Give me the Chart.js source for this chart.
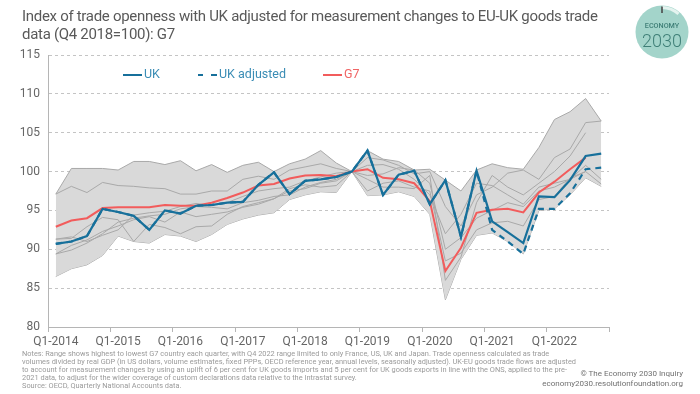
<!DOCTYPE html>
<html>
<head>
<meta charset="utf-8">
<script src="https://cdn.jsdelivr.net/npm/chart.js"></script>
<style>
  body { margin: 0; background: #fff; }
  #wrap { position: relative; width: 700px; height: 394px; overflow: hidden; font-family: Roboto, "Noto Sans", sans-serif; background: #fff; }
  #tradeChart { position: absolute; left: 0; top: 0; }
  .title { position: absolute; left: 22px; top: 7px; font-size: 15px; line-height: 18px; color: #595959; letter-spacing: -0.3px; }
  .legend { position: absolute; top: 66px; font-size: 12.5px; line-height: 16px; }
  .legend span.line { display: inline-block; width: 19px; height: 0; border-top: 2px solid; vertical-align: middle; margin-right: 2px; }
  .notes { position: absolute; left: 22px; top: 350px; font-size: 8px; line-height: 8px; color: #9a9a9a; white-space: nowrap; transform-origin: 0 0; transform: scaleX(0.925); }
  .credit { position: absolute; right: 17px; top: 369px; font-size: 8px; line-height: 9.5px; color: #707070; text-align: right; }
  #logo { position: absolute; left: 633px; top: 3px; }
</style>
</head>
<body>
<div id="wrap">
  <canvas id="tradeChart" width="700" height="394"></canvas>
  <div class="title">Index of trade openness with UK adjusted for measurement changes to EU-UK goods trade<br>data (Q4 2018=100): G7</div>
  <svg id="logo" width="60" height="60" viewBox="0 0 60 60">
    <circle cx="29" cy="29" r="26.5" fill="#a3d4ca"/>
    <path d="M29 4.5 A24.5 24.5 0 0 1 45.5 10.9" stroke="#e4f3ef" stroke-width="3" fill="none"/>
    <line x1="29" y1="3.5" x2="29" y2="10" stroke="#4a4a4a" stroke-width="1.6"/>
    <text x="29" y="25" text-anchor="middle" font-family="Roboto" font-size="7.2" font-weight="500" fill="#3f7f77">ECONOMY</text>
    <text x="29" y="44" text-anchor="middle" font-family="Roboto" font-size="18" font-weight="300" fill="#3f7f77">2030</text>
  </svg>
  <div class="legend" style="left:123px;color:#3b8db5"><span class="line" style="border-color:#17709b"></span>UK</div>
  <div class="legend" style="left:198px;color:#3b8db5"><span class="line" style="border-top:2px dashed #17709b;border-image:repeating-linear-gradient(90deg,#17709b 0 6px,transparent 6px 12px) 2"></span>UK adjusted</div>
  <div class="legend" style="left:323px;color:#f06565"><span class="line" style="border-color:#f25c5c"></span>G7</div>
  <div class="notes">Notes: Range shows highest to lowest G7 country each quarter, with Q4 2022 range limited to only France, US, UK and Japan. Trade openness calculated as trade<br>volumes divided by real GDP (in US dollars, volume estimates, fixed PPPs, OECD reference year, annual levels, seasonally adjusted). UK-EU goods trade flows are adjusted<br>to account for measurement changes by using an uplift of 6 per cent for UK goods imports and 5 per cent for UK goods exports in line with the ONS, applied to the pre-<br>2021 data, to adjust for the wider coverage of custom declarations data relative to the Intrastat survey.<br>Source: OECD, Quarterly National Accounts data.</div>
  <div class="credit">© The Economy 2030 Inquiry<br>economy2030.resolutionfoundation.org</div>
</div>
<script>
  var quarters = [];
  for (var yr = 2014; yr <= 2022; yr++) {
      for (var q = 1; q <= 4; q++) quarters.push('Q' + q + '-' + yr);
  }

  var yTicks = [80, 85, 90, 95, 100, 105, 110, 115];

  var ukValues = [90.7, 91.0, 91.7, 95.2, 94.8, 94.3, 92.5, 95.0, 94.6, 95.6, 95.7, 96.0,
      96.1, 98.3, 99.9, 97.1, 98.8, 99.0, 99.3, 100, 102.7, 97.0, 99.6, 100.1,
      95.8, 98.9, 91.6, 100.1, 93.6, 92.2, 90.8, 96.8, 96.7, 98.9, 102.0, 102.3];

  var ukAdjustedValues = [90.7, 91.0, 91.7, 95.2, 94.8, 94.3, 92.5, 95.0, 94.6, 95.6, 95.7, 96.0,
      96.1, 98.3, 99.9, 97.1, 98.8, 99.0, 99.3, 100, 102.7, 97.0, 99.6, 100.1,
      95.8, 98.9, 91.6, 100.1, 92.5, 91.0, 89.4, 95.2, 95.2, 97.2, 100.3, 100.5];

  var g7Values = [92.9, 93.7, 94.0, 95.3, 95.4, 95.4, 95.4, 95.7, 95.6, 95.6, 96.0, 96.6,
      97.3, 98.2, 98.4, 99.1, 99.5, 99.55, 99.4, 100, 100.3, 99.2, 99.0, 98.5,
      96.2, 87.2, 90.2, 94.7, 95.1, 95.2, 94.75, 97.3, 98.7, 100.3, 101.8, null];

  var rangeHigh = [97.1, 100.4, 100.4, 100.4, 100.2, 101.3, 101.3, 100.9, 101.4, 100.1, 100.9, 99.9,
      100.8, 101.2, 100.0, 101.0, 101.6, 102.7, 101.1, 100, 102.7, 101.6, 101.3, 100.2,
      100.3, 98.9, 97.5, 100.2, 101.0, 100.5, 100.3, 103.1, 106.7, 107.7, 109.4, 106.5];

  var rangeLow = [86.5, 87.5, 88.0, 89.2, 91.7, 91.0, 90.8, 91.9, 91.7, 91.0, 91.9, 93.2,
      93.9, 94.4, 94.7, 96.4, 97.0, 97.4, 97.3, 100, 96.9, 97.0, 97.4, 96.8,
      94.5, 83.5, 88.7, 91.8, 92.1, 91.0, 89.4, 95.0, 95.2, 97.0, 99.2, 98.1];

  // other G7 countries, drawn as thin grey lines inside the range
  var countryA = [97.1, 98.1, 97.3, 98.6, 98.2, 98.1, 97.9, 97.8, 97.1, 97.1, 97.5, 97.5,
      99.0, 99.4, 99.0, 100.2, 100.6, 101.0, 100.4, 100, 101.8, 101.5, 100.8, 99.7,
      100.0, 95.5, 93.0, 97.0, 98.0, 99.8, 100.2, 99.0, 101.8, 102.9, 106.3, 106.5];
  var countryB = [91.3, 91.4, 92.9, 94.1, 93.8, 91.0, 93.2, 92.8, 92.0, 92.9, 93.0, 94.5,
      95.5, 96.0, 96.5, 97.5, 97.8, 98.5, 98.8, 100, 100.8, 100.9, 100.3, 99.0,
      97.0, 92.0, 94.5, 98.5, 98.2, 97.0, 95.8, 98.0, 98.5, 99.0, 100.8, 99.0];
  var countryC = [89.4, 89.9, 90.8, 92.0, 93.5, 94.0, 94.3, 94.5, 95.2, 95.5, 95.4, 95.2,
      96.0, 96.3, 96.8, 97.0, 98.0, 98.6, 99.0, 100, 99.5, 99.7, 100.5, 100.2,
      98.5, 90.0, 91.5, 94.0, 95.0, 96.0, 95.5, 97.5, 98.0, 99.0, 100.0, 98.4];
  var countryD = [89.4, 90.5, 91.2, 92.3, 93.0, 93.8, 94.2, 93.5, 94.8, 94.2, 94.5, 94.8,
      95.4, 95.8, 96.5, 97.8, 98.3, 98.0, 98.2, 100, 97.5, 98.5, 98.8, 98.0,
      97.5, 88.5, 89.5, 92.5, 93.4, 93.6, 93.0, 96.4, 96.8, 99.2, 100.0, null];
  var countryE = [91.3, 91.6, 91.0, 91.8, 92.5, 94.4, 94.7, 94.9, 95.5, 95.9, 95.6, 96.0,
      96.8, 97.5, 97.8, 98.0, 98.8, 99.3, 99.8, 100, 99.0, 98.0, 98.0, 97.8,
      99.5, 86.0, 89.0, 96.0, 99.5, 98.0, 97.0, 98.5, 100.0, 102.0, 105.0, null];

  function greyLine(values) {
      return {
          data: values,
          borderColor: '#a9a9a9',
          borderWidth: 1,
          pointRadius: 0,
          fill: false
      };
  }

  Chart.defaults.font.family = 'Roboto';

  var ctx = document.getElementById('tradeChart').getContext('2d');
  var tradeChart = new Chart(ctx, {
      type: 'line',
      data: {
          labels: quarters,
          datasets: [
              { label: 'UK', data: ukValues, borderColor: '#17709b', borderWidth: 2.2, pointRadius: 0, fill: false },
              { label: 'UK adjusted', data: ukAdjustedValues, borderColor: '#17709b', borderWidth: 2.2, borderDash: [6, 5], pointRadius: 0, fill: false },
              { label: 'G7', data: g7Values, borderColor: '#f25c5c', borderWidth: 2, pointRadius: 0, fill: false },
              greyLine(countryA),
              greyLine(countryB),
              greyLine(countryC),
              greyLine(countryD),
              greyLine(countryE),
              { label: 'High', data: rangeHigh, borderColor: '#a9a9a9', borderWidth: 1, pointRadius: 0, fill: '+1', backgroundColor: '#d9d9d9' },
              { label: 'Low', data: rangeLow, borderColor: '#a9a9a9', borderWidth: 1, pointRadius: 0, fill: false }
          ]
      },
      options: {
          responsive: false,
          animation: false,
          layout: { padding: { left: 0, right: 91, top: 55, bottom: 0 } },
          plugins: {
              legend: { display: false },
              tooltip: { enabled: false }
          },
          scales: {
              x: {
                  offset: true,
                  grid: {
                      offset: true,
                      drawOnChartArea: false,
                      tickLength: 5,
                      tickColor: function (c) {
                          return (c.index === undefined || c.index % 4 === 0) ? '#b5b5b5' : 'rgba(0,0,0,0)';
                      }
                  },
                  border: { color: '#b5b5b5', width: 1 },
                  ticks: {
                      autoSkip: false,
                      maxRotation: 0,
                      padding: 3,
                      color: '#666',
                      font: { size: 12 },
                      callback: function (val, idx) {
                          return idx % 4 === 0 ? quarters[idx] : '';
                      }
                  },
                  afterFit: function (scale) { scale.height = 67; }
              },
              y: {
                  min: yTicks[0],
                  max: yTicks[yTicks.length - 1],
                  afterBuildTicks: function (scale) {
                      scale.ticks = yTicks.map(function (v) { return { value: v }; });
                  },
                  grid: { color: '#c4c4c4', drawTicks: false },
                  border: { color: '#b5b5b5', dash: [3, 3] },
                  ticks: { padding: 8, color: '#666', font: { size: 12 } },
                  afterFit: function (scale) { scale.width = 48; }
              }
          }
      }
  });
</script>
</body>
</html>
